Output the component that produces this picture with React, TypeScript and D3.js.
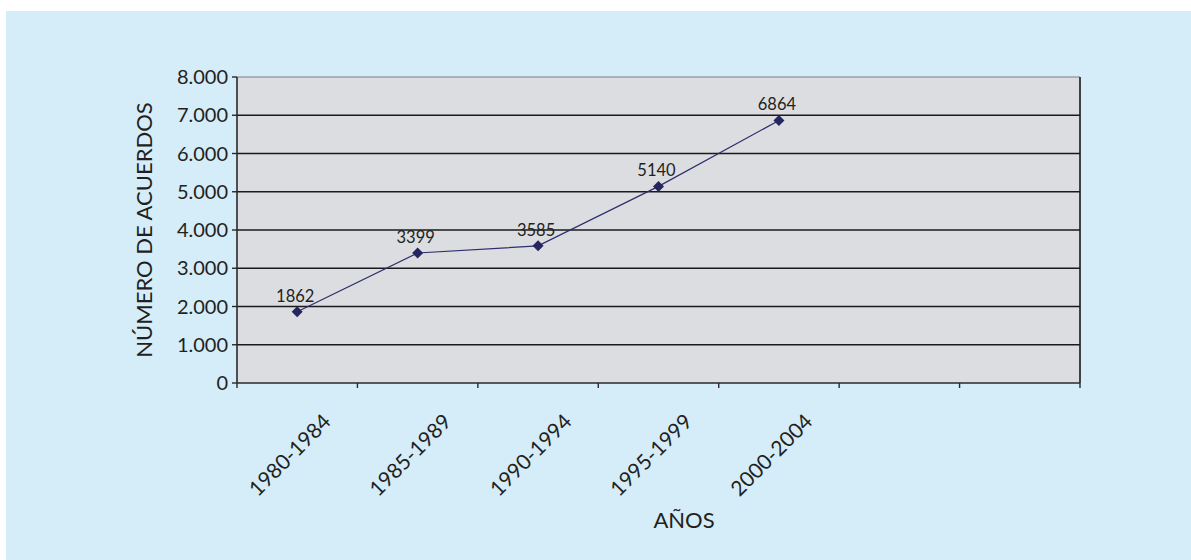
import * as d3 from "d3";

// data
const categories: string[] = ["1980-1984", "1985-1989", "1990-1994", "1995-1999", "2000-2004"];
const acuerdos: number[] = [1862, 3399, 3585, 5140, 6864];
const yTicks: number[] = [0, 1000, 2000, 3000, 4000, 5000, 6000, 7000, 8000];
const slotCount = 7; // the axis keeps two empty slots on the right

const FONT = "Lato, 'Open Sans', sans-serif";
const INK = "#231f20";

export default function App() {
  const w = 1191;
  const h = 560;
  const left = 237;
  const right = 1080;
  const top = 77;
  const bottom = 383;

  const x = d3.scaleBand<number>().domain(d3.range(slotCount)).range([left, right]).padding(0);
  const y = d3.scaleLinear().domain([0, 8000]).range([bottom, top]);
  const cx = (i: number) => (x(i) as number) + x.bandwidth() / 2;

  const fmt = d3
    .formatLocale({ decimal: ",", thousands: ".", grouping: [3], currency: ["", ""] })
    .format(",");

  const line = d3
    .line<number>()
    .x((d, i) => cx(i))
    .y((d) => y(d));

  const boundaries = d3.range(slotCount + 1).map((i) => left + i * x.bandwidth());

  return (
    <div>
      <style>{`body{margin:0}`}</style>
      <svg width={w} height={h} style={{ display: "block", fontFamily: FONT }}>
        <rect x={0} y={0} width={w} height={h} fill="#ffffff" />
        <rect x={6} y={11} width={w - 6} height={h - 11} fill="#d5ecf9" />

        {/* plot area */}
        <rect x={left} y={top} width={right - left} height={bottom - top} fill="#dcdde0" />
        <line x1={left} x2={right} y1={y(8000)} y2={y(8000)} stroke="#7d7f84" strokeWidth={1.2} />
        {yTicks
          .filter((t) => t > 0 && t < 8000)
          .map((t) => (
            <line key={t} x1={left} x2={right} y1={y(t)} y2={y(t)} stroke="#1a1a1a" strokeWidth={1.6} />
          ))}
        <line x1={right} x2={right} y1={top} y2={bottom} stroke="#1a1a1a" strokeWidth={1.6} />

        {/* y axis */}
        <line x1={left} x2={left} y1={top} y2={bottom} stroke="#2a2a2a" strokeWidth={1.6} />
        {yTicks.map((t) => (
          <g key={t}>
            <line x1={left - 5} x2={left} y1={y(t)} y2={y(t)} stroke="#2a2a2a" strokeWidth={1.4} />
            <text x={left - 9} y={y(t)} dy="0.36em" textAnchor="end" fontSize={20} fill={INK}>
              {fmt(t)}
            </text>
          </g>
        ))}
        <text
          transform={`translate(152, ${(top + bottom) / 2}) rotate(-90)`}
          textAnchor="middle"
          fontSize={22}
          fill={INK}
        >
          NÚMERO DE ACUERDOS
        </text>

        {/* x axis */}
        <line x1={left} x2={right} y1={bottom} y2={bottom} stroke="#2a2a2a" strokeWidth={1.6} />
        {boundaries.map((b, i) => (
          <line key={i} x1={b} x2={b} y1={bottom} y2={bottom + 5} stroke="#2a2a2a" strokeWidth={1.4} />
        ))}
        {categories.map((c, i) => (
          <text
            key={c}
            transform={`translate(${cx(i) + 35}, ${bottom + 40}) rotate(-45)`}
            textAnchor="end"
            fontSize={21}
            fill={INK}
          >
            {c}
          </text>
        ))}
        <text x={684} y={528} textAnchor="middle" fontSize={22} fill={INK}>
          AÑOS
        </text>

        {/* series */}
        <path d={line(acuerdos) ?? ""} fill="none" stroke="#2e2d6e" strokeWidth={1.2} />
        {acuerdos.map((v, i) => (
          <g key={i}>
            <path
              d={`M${cx(i)},${y(v) - 5.5}L${cx(i) + 5.5},${y(v)}L${cx(i)},${y(v) + 5.5}L${cx(i) - 5.5},${y(v)}Z`}
              fill="#25255f"
            />
            <text x={cx(i) - 2} y={y(v) - 10} textAnchor="middle" fontSize={16.5} fill={INK}>
              {v}
            </text>
          </g>
        ))}
      </svg>
    </div>
  );
}
